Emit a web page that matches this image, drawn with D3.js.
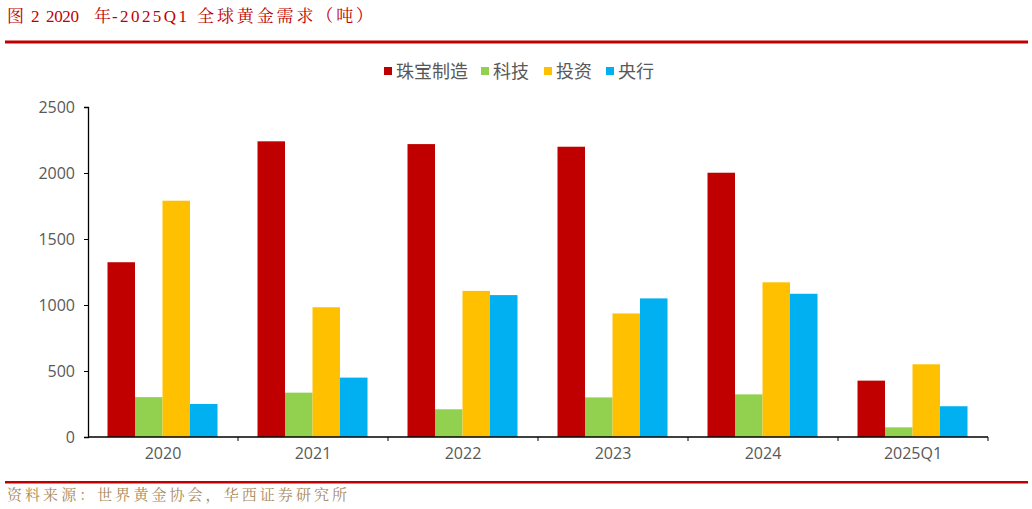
<!DOCTYPE html>
<html><head><meta charset="utf-8">
<script src="https://cdn.jsdelivr.net/npm/d3@7"></script>
<style>body{margin:0;background:#fff}svg{display:block}</style>
</head><body><svg id="c" width="1032" height="509"></svg>
<script>
const categories = ["2020","2021","2022","2023","2024","2025Q1"];
const seriesNames = ["珠宝制造","科技","投资","央行"];
const jewelry = [1324, 2240, 2219, 2199, 2002, 427];
const technology = [302, 336, 210, 300, 323, 73];
const investment = [1790, 983, 1107, 936, 1172, 551];
const centralBank = [250, 450, 1075, 1050, 1085, 233];
const yTicks = [0, 500, 1000, 1500, 2000, 2500];
const colors = ["#c00000","#92d050","#ffc000","#00b0f0"];
const seriesValues = [jewelry, technology, investment, centralBank];

const svg = d3.select("#c");
const serif = "'Liberation Serif','Noto Serif CJK SC','Noto Sans CJK SC',serif";
const sans = "'Open Sans','Noto Sans CJK SC','DejaVu Sans',sans-serif";

// title (mixed Latin/CJK runs, one text element per run)
const titleParts = [
  {t: "图", x: 7, w: 15},
  {t: "2", x: 31, w: 8},
  {t: "2020", x: 46, w: 33},
  {t: "年", x: 94, w: 15},
  {t: "-2025Q1", x: 112, w: 75},
  {t: "全球黄金需求（吨）", x: 197, w: 176}
];
const titleG = svg.append("g").attr("class", "title");
titleParts.forEach(p => {
  titleG.append("text").attr("x", p.x).attr("y", 22).attr("fill", "#c00000")
    .attr("textLength", p.w).attr("lengthAdjust", "spacing")
    .style("font-family", serif).style("font-size", "17px").text(p.t);
});
svg.append("rect").attr("x", 5).attr("y", 40.5).attr("width", 1023).attr("height", 3).attr("fill", "#c00000");

// footer
svg.append("rect").attr("x", 5).attr("y", 481).attr("width", 1023).attr("height", 2.5).attr("fill", "#c00000");
svg.append("text").attr("x", 7).attr("y", 500).attr("fill", "#a88a5a")
  .attr("textLength", 340).attr("lengthAdjust", "spacing")
  .style("font-family", serif).style("font-size", "15px")
  .text("资料来源：世界黄金协会，华西证券研究所");

const x0 = d3.scaleBand().domain(categories).range([88, 988]).paddingInner(0).paddingOuter(0);
const x1 = d3.scaleBand().domain(seriesNames).range([19.5, 129.5]).padding(0);
const y = d3.scaleLinear().domain([0, 2500]).range([437, 107]);

const g = svg.append("g");
categories.forEach((c, i) => {
  seriesNames.forEach((s, j) => {
    const v = seriesValues[j][i];
    g.append("rect")
      .attr("x", x0(c) + x1(s)).attr("width", x1.bandwidth())
      .attr("y", y(v)).attr("height", y(0) - y(v))
      .attr("fill", colors[j]);
  });
});

// y axis
const yAxis = d3.axisLeft(y).tickValues(yTicks).tickSize(4).tickPadding(9).tickFormat(d3.format("d"));
const ya = svg.append("g").attr("transform", "translate(88,0)").call(yAxis);
ya.select(".domain").attr("stroke", "#000").attr("stroke-width", 1.3);
ya.selectAll(".tick line").attr("stroke", "#000");
ya.selectAll("text").attr("fill", "#595959").style("font-family", sans).style("font-size", "16px");

// x axis
const xa = svg.append("g").attr("transform", "translate(0,437)");
xa.append("line").attr("x1", 88).attr("x2", 988).attr("stroke", "#000").attr("stroke-width", 1.3);
categories.forEach(c => {
  const xe = x0(c) + x0.bandwidth();
  xa.append("line").attr("x1", xe).attr("x2", xe).attr("y1", 0).attr("y2", 4).attr("stroke", "#000");
  xa.append("text").attr("x", x0(c) + x0.bandwidth() / 2).attr("y", 22)
    .attr("text-anchor", "middle").attr("fill", "#595959")
    .style("font-family", sans).style("font-size", "16px").text(c);
});

// legend
const legendX = [384, 481, 544, 606];
const lg = svg.append("g");
seriesNames.forEach((s, j) => {
  lg.append("rect").attr("x", legendX[j]).attr("y", 67).attr("width", 8).attr("height", 8).attr("fill", colors[j]);
  lg.append("text").attr("x", legendX[j] + 12).attr("y", 78).attr("fill", "#595959")
    .style("font-family", "'Noto Sans CJK SC',sans-serif").style("font-size", "18px").text(s);
});
</script></body></html>
